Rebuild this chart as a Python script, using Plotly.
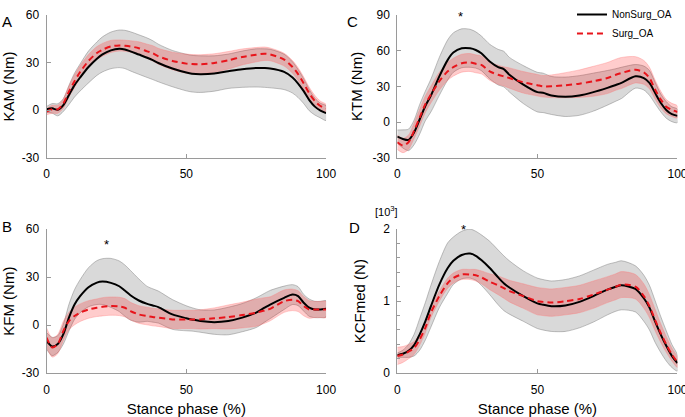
import plotly.graph_objects as go
from plotly.subplots import make_subplots

# --------------------------------------------------------------------------------------
# Eixo comum: fase de apoio (%)
# --------------------------------------------------------------------------------------
stance = [0, 2, 4, 6, 8, 10, 12, 15, 18, 20, 23, 26, 28, 30, 33, 36, 38, 40, 45, 50,
          52, 55, 60, 65, 70, 75, 78, 80, 85, 88, 90, 92, 94, 96, 98, 100]

# A - KAM (Nm)
kam_nonsurg = [0.6, 1.2, 0.3, 3.3, 9.6, 15.8, 20.6, 27.2, 32.4, 35.1, 37.6, 38.6, 38.2, 37.0, 35.0, 33.0, 31.5, 29.7, 26.2, 23.7,
               23.0, 22.7, 23.1, 24.5, 25.8, 26.6, 26.5, 26.2, 24.1, 20.6, 16.8, 12.0, 6.4, 2.3, -0.2, -1.8]
kam_nonsurg_sd = [1.8, 3.0, 3.8, 4.0, 6.0, 7.5, 8.5, 10.0, 10.5, 11.0, 11.5, 11.8, 12.0, 12.3, 12.4, 12.4, 12.2, 11.8, 11.4, 11.5,
                  11.5, 11.5, 11.1, 10.8, 11.4, 12.0, 12.1, 12.1, 11.1, 9.8, 8.8, 7.8, 6.7, 5.3, 4.6, 4.6]
kam_surg = [-0.8, 0.6, 0.6, 4.3, 11.7, 18.3, 24.0, 31.0, 36.0, 38.0, 40.1, 40.7, 40.5, 40.1, 39.0, 37.0, 35.8, 33.9, 31.0, 29.3,
            29.0, 28.9, 29.7, 31.4, 33.5, 34.9, 35.5, 35.1, 31.8, 27.2, 22.7, 16.9, 10.6, 5.8, 2.7, 1.2]
kam_surg_sd = [2.0, 2.5, 2.5, 3.0, 3.5, 4.0, 4.0, 4.0, 4.0, 4.0, 3.8, 3.5, 3.5, 3.6, 4.0, 4.5, 4.8, 5.0, 5.5, 6.0,
               6.0, 6.0, 5.8, 5.5, 5.0, 4.5, 4.2, 4.0, 4.0, 4.0, 4.0, 4.0, 3.8, 3.5, 3.0, 2.5]

# B - KFM (Nm)
kfm_nonsurg = [-9.8, -13.3, -11.8, -5.6, 4.7, 12.9, 18.1, 23.7, 26.6, 27.2, 26.4, 24.3, 21.6, 18.7, 15.4, 13.3, 12.3, 11.3, 6.7, 4.3,
               3.6, 2.6, 1.9, 2.6, 4.7, 7.8, 10.9, 12.9, 17.1, 19.1, 18.1, 14.0, 10.9, 9.8, 9.8, 10.2]
kfm_nonsurg_sd = [5.2, 5.7, 5.2, 6.2, 8.3, 9.3, 10.3, 12.2, 13.7, 14.3, 15.3, 15.8, 16.0, 15.5, 13.5, 10.9, 10.4, 10.0, 9.3, 7.8,
                  7.3, 7.0, 7.6, 8.6, 8.8, 9.3, 9.0, 8.8, 7.3, 6.2, 5.9, 5.2, 5.4, 5.1, 5.1, 5.1]
kfm_surg = [-7.7, -13.9, -11.8, -3.6, 2.6, 5.7, 7.8, 9.8, 10.9, 11.5, 11.9, 11.7, 10.9, 8.8, 6.7, 5.7, 5.1, 4.7, 3.6, 3.6,
            3.6, 3.6, 4.3, 5.1, 6.3, 7.8, 9.2, 10.2, 15.0, 15.8, 15.0, 11.9, 9.8, 9.8, 9.8, 9.8]
kfm_surg_sd = [6.0, 6.0, 6.0, 6.0, 5.5, 5.5, 5.5, 5.5, 5.5, 5.7, 5.7, 5.7, 5.7, 5.5, 5.5, 5.5, 5.5, 5.5, 5.7, 5.7,
               5.7, 6.0, 6.5, 7.5, 8.0, 8.5, 8.0, 7.5, 7.0, 6.7, 6.5, 6.0, 5.5, 5.0, 5.0, 5.0]

# C - KTM (Nm)
ktm_nonsurg = [-12.0, -14.0, -14.8, -8.5, 2.5, 13.6, 22.4, 38.4, 52.2, 58.3, 61.9, 61.9, 60.5, 57.7, 50.8, 46.1, 44.5, 39.8, 31.5, 25.2,
               24.6, 22.4, 21.3, 22.4, 25.2, 28.8, 31.2, 32.9, 38.4, 37.0, 32.9, 24.6, 16.3, 10.3, 6.7, 5.3]
ktm_nonsurg_sd = [5.5, 7.6, 9.0, 10.3, 12.4, 12.4, 13.8, 15.9, 16.8, 16.5, 16.3, 15.9, 15.2, 14.5, 14.5, 14.9, 14.9, 14.5, 15.9, 16.6,
                  16.5, 15.9, 16.5, 16.6, 15.9, 14.5, 13.6, 13.1, 9.9, 10.0, 10.4, 9.0, 7.5, 6.9, 6.2, 5.6]
ktm_surg = [-16.8, -19.5, -16.8, -7.1, 3.9, 15.0, 23.2, 34.3, 42.6, 46.1, 49.4, 50.0, 48.9, 48.0, 42.6, 39.8, 38.4, 37.0, 33.4, 31.0,
            30.1, 30.1, 31.0, 32.3, 34.3, 37.0, 39.8, 41.2, 43.9, 41.7, 37.0, 27.4, 19.1, 13.0, 10.3, 8.6]
ktm_surg_sd = [6.0, 6.0, 6.0, 6.5, 7.0, 7.0, 7.0, 7.5, 7.5, 7.5, 7.5, 7.5, 7.5, 7.5, 7.5, 8.0, 8.0, 8.5, 9.0, 9.0,
               9.0, 9.5, 10.5, 11.5, 12.5, 13.0, 13.0, 13.0, 11.0, 10.0, 9.0, 8.0, 7.0, 6.0, 5.5, 5.0]

# D - KCFmed (N, x10^3)
kcf_nonsurg = [0.25, 0.27, 0.31, 0.39, 0.54, 0.72, 0.93, 1.23, 1.46, 1.56, 1.64, 1.66, 1.63, 1.57, 1.46, 1.33, 1.25, 1.19, 1.07, 0.97,
               0.95, 0.93, 0.94, 0.99, 1.07, 1.16, 1.20, 1.22, 1.17, 1.04, 0.91, 0.72, 0.54, 0.38, 0.24, 0.14]
kcf_nonsurg_sd = [0.03, 0.05, 0.09, 0.15, 0.22, 0.26, 0.29, 0.32, 0.35, 0.33, 0.33, 0.34, 0.34, 0.35, 0.37, 0.38, 0.38, 0.37, 0.35, 0.35,
                  0.35, 0.35, 0.36, 0.36, 0.36, 0.35, 0.34, 0.34, 0.32, 0.32, 0.31, 0.29, 0.25, 0.21, 0.16, 0.11]
kcf_surg = [0.24, 0.26, 0.30, 0.35, 0.47, 0.63, 0.84, 1.07, 1.25, 1.32, 1.37, 1.37, 1.36, 1.33, 1.27, 1.22, 1.18, 1.14, 1.07, 1.00,
            0.99, 0.98, 1.00, 1.03, 1.09, 1.16, 1.20, 1.23, 1.20, 1.07, 0.93, 0.74, 0.56, 0.40, 0.26, 0.15]
kcf_surg_sd = [0.12, 0.11, 0.10, 0.09, 0.08, 0.07, 0.07, 0.07, 0.07, 0.07, 0.07, 0.07, 0.08, 0.09, 0.11, 0.13, 0.14, 0.15, 0.17, 0.19,
               0.19, 0.19, 0.19, 0.19, 0.19, 0.18, 0.18, 0.18, 0.17, 0.17, 0.16, 0.15, 0.13, 0.11, 0.09, 0.07]

# nomes dos grupos e posicoes dos asteriscos (x, y) de cada painel
grupos = ['NonSurg_OA', 'Surg_OA']
asterisco_kfm = (21.5, 50.5)
asterisco_ktm = (22.6, 88.6)
asterisco_kcf = (23.6, 2.13)

FONTE = 'Liberation Sans, Arial, sans-serif'

fig = make_subplots(rows=2, cols=2)


def banda(media, sd, cor_fill, cor_borda, row, col):
    sup = [m + s for m, s in zip(media, sd)]
    inf = [m - s for m, s in zip(media, sd)]
    fig.add_trace(go.Scatter(x=stance + stance[::-1], y=sup + inf[::-1], fill='toself',
                             fillcolor=cor_fill, line=dict(color=cor_borda, width=0.6, shape='spline', smoothing=0.8),
                             hoverinfo='skip', showlegend=False), row=row, col=col)


paineis = [
    (kam_nonsurg, kam_nonsurg_sd, kam_surg, kam_surg_sd, 1, 1),
    (kfm_nonsurg, kfm_nonsurg_sd, kfm_surg, kfm_surg_sd, 2, 1),
    (ktm_nonsurg, ktm_nonsurg_sd, ktm_surg, ktm_surg_sd, 1, 2),
    (kcf_nonsurg, kcf_nonsurg_sd, kcf_surg, kcf_surg_sd, 2, 2),
]

for ns, ns_sd, s, s_sd, r, c in paineis:
    legenda = (r == 1 and c == 2)
    banda(ns, ns_sd, 'rgba(128,128,128,0.3)', 'rgba(110,110,110,0.7)', r, c)
    banda(s, s_sd, 'rgba(255,0,0,0.2)', 'rgba(255,120,120,0.6)', r, c)
    fig.add_trace(go.Scatter(x=stance, y=ns, mode='lines', name=grupos[0], showlegend=legenda,
                             line=dict(color='black', width=2, shape='spline', smoothing=0.8)), row=r, col=c)
    fig.add_trace(go.Scatter(x=stance, y=s, mode='lines', name=grupos[1], showlegend=legenda,
                             line=dict(color='#e8141b', width=2, dash='6px,4px', shape='spline', smoothing=0.8)), row=r, col=c)

# eixos (estilo matlab: so esquerda/baixo, ticks para dentro)
eixo = dict(showgrid=False, zeroline=False, showline=True, linecolor='#9a9a9a', linewidth=1, automargin=False,
            ticks='inside', ticklen=4, tickcolor='#9a9a9a', tickfont=dict(family=FONTE, size=12, color='black'),
            ticklabeloverflow='allow')

for n in ['', '2', '3', '4']:
    fig.layout['xaxis' + n].update(eixo, range=[0, 100], tickvals=[0, 50, 100], ticklabelstandoff=5)
    fig.layout['yaxis' + n].update(eixo, ticklabelstandoff=4)

fig.update_layout(
    xaxis=dict(domain=[0.068, 0.476]), yaxis=dict(domain=[0.627, 0.974]),
    xaxis2=dict(domain=[0.58, 0.989]), yaxis2=dict(domain=[0.627, 0.974]),
    xaxis3=dict(domain=[0.068, 0.476]), yaxis3=dict(domain=[0.106, 0.455]),
    xaxis4=dict(domain=[0.58, 0.989]), yaxis4=dict(domain=[0.106, 0.455]),
)

titulo = dict(family=FONTE, size=15, color='black')
fig.update_yaxes(range=[-30, 60], tickvals=[-30, 0, 30, 60], ticktext=['-30', '0', '30', '60'],
                 title=dict(text='KAM (Nm)', font=titulo, standoff=6), row=1, col=1)
fig.update_yaxes(range=[-30, 60], tickvals=[-30, 0, 30, 60], ticktext=['-30', '0', '30', '60'],
                 title=dict(text='KFM (Nm)', font=titulo, standoff=6), row=2, col=1)
fig.update_yaxes(range=[-30, 90], tickvals=[-30, 0, 30, 60, 90], ticktext=['-30', '0', '30', '60', '90'],
                 title=dict(text='KTM (Nm)', font=titulo, standoff=6), row=1, col=2)
fig.update_yaxes(range=[0, 2], tickvals=[0, 1, 2],
                 minor=dict(ticks='inside', ticklen=3, tickcolor='#9a9a9a', dtick=0.2, showgrid=False),
                 title=dict(text='KCFmed (N)', font=titulo, standoff=13), row=2, col=2)
fig.update_xaxes(title=dict(text='Stance phase (%)', font=titulo, standoff=8), row=2, col=1)
fig.update_xaxes(title=dict(text='Stance phase (%)', font=titulo, standoff=8), row=2, col=2)

# letras dos paineis, asteriscos e escala do painel D
anot = dict(xref='paper', yref='paper', showarrow=False, font=dict(family=FONTE, size=15, color='black'))
fig.add_annotation(anot, text='A', x=0, y=1 - 7 / 417, xanchor='left')
fig.add_annotation(anot, text='B', x=0, y=1 - 225 / 417, xanchor='left')
fig.add_annotation(anot, text='C', x=352 / 685, y=1 - 7 / 417)
fig.add_annotation(anot, text='D', x=354 / 685, y=1 - 226 / 417)
fig.add_annotation(anot, text='[10<sup>3</sup>]', x=387 / 685, y=1 - 209 / 417, font=dict(family=FONTE, size=11))

estrela = dict(showarrow=False, text='*', font=dict(family=FONTE, size=13, color='black'))
fig.add_annotation(estrela, x=asterisco_kfm[0], y=asterisco_kfm[1], xref='x3', yref='y3')
fig.add_annotation(estrela, x=asterisco_ktm[0], y=asterisco_ktm[1], xref='x2', yref='y2')
# no painel D o asterisco fica acima do limite do eixo -> usa referencia do dominio
fig.add_annotation(estrela, x=asterisco_kcf[0], y=asterisco_kcf[1] / 2, xref='x4', yref='y4 domain')

fig.update_layout(
    width=685, height=417, margin=dict(l=0, r=0, t=0, b=0),
    paper_bgcolor='white', plot_bgcolor='white',
    font=dict(family=FONTE, color='black'),
    legend=dict(x=0.835, y=1.01, xanchor='left', yanchor='top', bgcolor='rgba(0,0,0,0)',
                font=dict(family=FONTE, size=10), tracegroupgap=0, itemwidth=30),
)

# tira a margem padrao do <body> para a figura ocupar a janela inteira
fig.write_html('out.html', config={'displayModeBar': False},
               post_script="document.body.style.margin='0';")
